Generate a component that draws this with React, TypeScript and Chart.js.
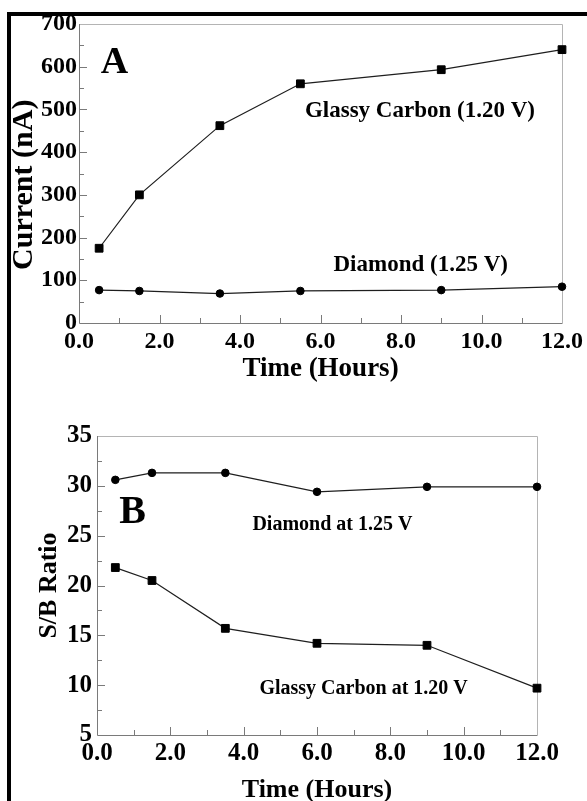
import React, { useEffect, useRef } from 'react';
import { Chart, registerables } from 'chart.js';
Chart.register(...registerables);

// ---- Data ----
const hoursA = [0.5, 1.5, 3.5, 5.5, 9, 12];
const glassyCurrentA = [175, 300, 462, 560, 593, 640];
const diamondCurrentA = [77, 75, 69, 75, 77, 85];

const hoursB = [0.5, 1.5, 3.5, 6, 9, 12];
const diamondRatioB = [30.6, 31.3, 31.3, 29.4, 29.9, 29.9];
const glassyRatioB = [21.8, 20.5, 15.7, 14.2, 14.0, 9.7];

const xTitle = 'Time (Hours)';
const yTitleA = 'Current (nA)   ';
const yTitleB = 'S/B Ratio';

const labelsA = [
  { text: 'A', x: 0.88, y: 608, size: 38 },
  { text: 'Glassy Carbon (1.20 V)', x: 8.47, y: 496, size: 23 },
  { text: 'Diamond (1.25 V)', x: 8.49, y: 135, size: 23 },
];
const labelsB = [
  { text: 'B', x: 0.97, y: 27.3, size: 40 },
  { text: 'Diamond at 1.25 V', x: 6.42, y: 26.07, size: 20 },
  { text: 'Glassy Carbon at 1.20 V', x: 7.27, y: 9.67, size: 20 },
];

const FONT = "'Liberation Serif', 'Times New Roman', serif";

function toXY(xs: number[], ys: number[]) {
  return xs.map((x, i) => ({ x, y: ys[i] }));
}

function framePlugin(xStep: number, yStep: number) {
  return {
    id: 'frameTicks',
    beforeDatasetsDraw(chart: any) {
      const { ctx, chartArea } = chart;
      const { left, right, top, bottom } = chartArea;
      const x = chart.scales.x;
      const y = chart.scales.y;
      ctx.save();
      ctx.lineWidth = 1;
      ctx.strokeStyle = '#b4b4b4';
      ctx.beginPath();
      ctx.moveTo(Math.round(left), Math.round(top) + 0.5);
      ctx.lineTo(Math.round(right) + 0.5, Math.round(top) + 0.5);
      ctx.lineTo(Math.round(right) + 0.5, Math.round(bottom));
      ctx.stroke();
      ctx.strokeStyle = '#7a7a7a';
      ctx.beginPath();
      ctx.moveTo(Math.round(left) + 0.5, Math.round(top));
      ctx.lineTo(Math.round(left) + 0.5, Math.round(bottom) + 0.5);
      ctx.lineTo(Math.round(right) + 0.5, Math.round(bottom) + 0.5);
      const xs = xStep / 2;
      for (let i = 1; x.min + i * xs < x.max - 1e-9; i++) {
        const v = x.min + i * xs;
        const px = Math.round(x.getPixelForValue(v)) + 0.5;
        const len = i % 2 === 0 ? 8 : 5;
        ctx.moveTo(px, bottom);
        ctx.lineTo(px, bottom - len);
      }
      const ys = yStep / 2;
      for (let i = 1; y.min + i * ys < y.max - 1e-9; i++) {
        const v = y.min + i * ys;
        const py = Math.round(y.getPixelForValue(v)) + 0.5;
        const len = i % 2 === 0 ? 8 : 5;
        ctx.moveTo(left, py);
        ctx.lineTo(left + len, py);
      }
      ctx.stroke();
      ctx.restore();
    },
  };
}

function labelPlugin(items: { text: string; x: number; y: number; size: number }[]) {
  return {
    id: 'panelLabels',
    afterDatasetsDraw(chart: any) {
      const { ctx } = chart;
      const x = chart.scales.x;
      const y = chart.scales.y;
      ctx.save();
      ctx.fillStyle = '#000';
      ctx.textAlign = 'center';
      ctx.textBaseline = 'middle';
      items.forEach((it) => {
        ctx.font = `bold ${it.size}px ${FONT}`;
        ctx.fillText(it.text, x.getPixelForValue(it.x), y.getPixelForValue(it.y));
      });
      ctx.restore();
    },
  };
}

function makeConfig(opts: any) {
  const {
    datasets, xMin, xMax, xStep, yMin, yMax, yStep, tickSize, yAxisWidth, xAxisHeight,
    padding, xTitlePad, yTitlePad, titleSizeX, titleSizeY, yTitle, labels, xTickPad, yTickPad,
  } = opts;
  return {
    type: 'line',
    data: { datasets },
    options: {
      responsive: false,
      animation: false,
      devicePixelRatio: 1,
      events: [],
      layout: { padding },
      plugins: { legend: { display: false }, tooltip: { enabled: false } },
      scales: {
        x: {
          type: 'linear',
          min: xMin,
          max: xMax,
          grid: { display: false, drawTicks: false },
          border: { display: false },
          ticks: {
            stepSize: xStep,
            autoSkip: false,
            maxRotation: 0,
            minRotation: 0,
            padding: xTickPad,
            color: '#000',
            font: { family: FONT, size: tickSize, weight: 'bold' },
            callback: (v: any) => Number(v).toFixed(1),
          },
          title: {
            display: true,
            text: xTitle,
            color: '#000',
            font: { family: FONT, size: titleSizeX, weight: 'bold', lineHeight: 1.2 },
            padding: { top: xTitlePad, bottom: xTitlePad },
          },
          afterFit: (s: any) => { s.height = xAxisHeight; },
        },
        y: {
          type: 'linear',
          min: yMin,
          max: yMax,
          grid: { display: false, drawTicks: false },
          border: { display: false },
          ticks: {
            stepSize: yStep,
            autoSkip: false,
            padding: yTickPad,
            color: '#000',
            font: { family: FONT, size: tickSize, weight: 'bold' },
          },
          title: {
            display: true,
            text: yTitle,
            color: '#000',
            font: { family: FONT, size: titleSizeY, weight: 'bold', lineHeight: 1.2 },
            padding: { top: yTitlePad, bottom: yTitlePad },
          },
          afterFit: (s: any) => { s.width = yAxisWidth; },
        },
      },
    },
    plugins: [framePlugin(xStep, yStep), labelPlugin(labels)],
  };
}

function lineDs(data: any[], style: string, radius: number) {
  return {
    data,
    borderColor: '#1e1e1e',
    borderWidth: 1.2,
    tension: 0,
    fill: false,
    clip: false,
    pointStyle: style,
    pointRadius: radius,
    pointBackgroundColor: '#000',
    pointBorderColor: '#000',
    pointBorderWidth: 1,
  };
}

export default function App() {
  const refA = useRef<HTMLCanvasElement>(null);
  const refB = useRef<HTMLCanvasElement>(null);

  useEffect(() => {
    const cA = new Chart(refA.current as any, makeConfig({
      datasets: [
        lineDs(toXY(hoursA, glassyCurrentA), 'rect', 5.5),
        lineDs(toXY(hoursA, diamondCurrentA), 'circle', 3.8),
      ],
      xMin: 0, xMax: 12, xStep: 2,
      yMin: 0, yMax: 700, yStep: 100,
      tickSize: 24,
      yAxisWidth: 79, xAxisHeight: 77,
      padding: { left: 0, top: 24, right: 24, bottom: 0 },
      xTitlePad: 15, yTitlePad: 6,
      titleSizeX: 27, titleSizeY: 30,
      yTitle: yTitleA,
      labels: labelsA,
      xTickPad: 4, yTickPad: 2,
    }) as any);
    const cB = new Chart(refB.current as any, makeConfig({
      datasets: [
        lineDs(toXY(hoursB, diamondRatioB), 'circle', 3.8),
        lineDs(toXY(hoursB, glassyRatioB), 'rect', 5.5),
      ],
      xMin: 0, xMax: 12, xStep: 2,
      yMin: 5, yMax: 35, yStep: 5,
      tickSize: 25,
      yAxisWidth: 97, xAxisHeight: 85,
      padding: { left: 0, top: 36, right: 50, bottom: 0 },
      xTitlePad: 14, yTitlePad: 34,
      titleSizeX: 26, titleSizeY: 26,
      yTitle: yTitleB,
      labels: labelsB,
      xTickPad: 4, yTickPad: 5,
    }) as any);
    return () => { cA.destroy(); cB.destroy(); };
  }, []);

  return (
    <div style={{ position: 'fixed', left: 0, top: 0, width: 587, height: 801, overflow: 'hidden', background: '#fff' }}>
      <canvas ref={refA} width={587} height={400} style={{ position: 'absolute', left: 0, top: 0, display: 'block' }} />
      <canvas ref={refB} width={587} height={420} style={{ position: 'absolute', left: 0, top: 400, display: 'block' }} />
      <div style={{ position: 'absolute', left: 7, top: 12, width: 580, height: 4, background: '#000' }} />
      <div style={{ position: 'absolute', left: 7, top: 12, width: 4, height: 789, background: '#000' }} />
    </div>
  );
}
